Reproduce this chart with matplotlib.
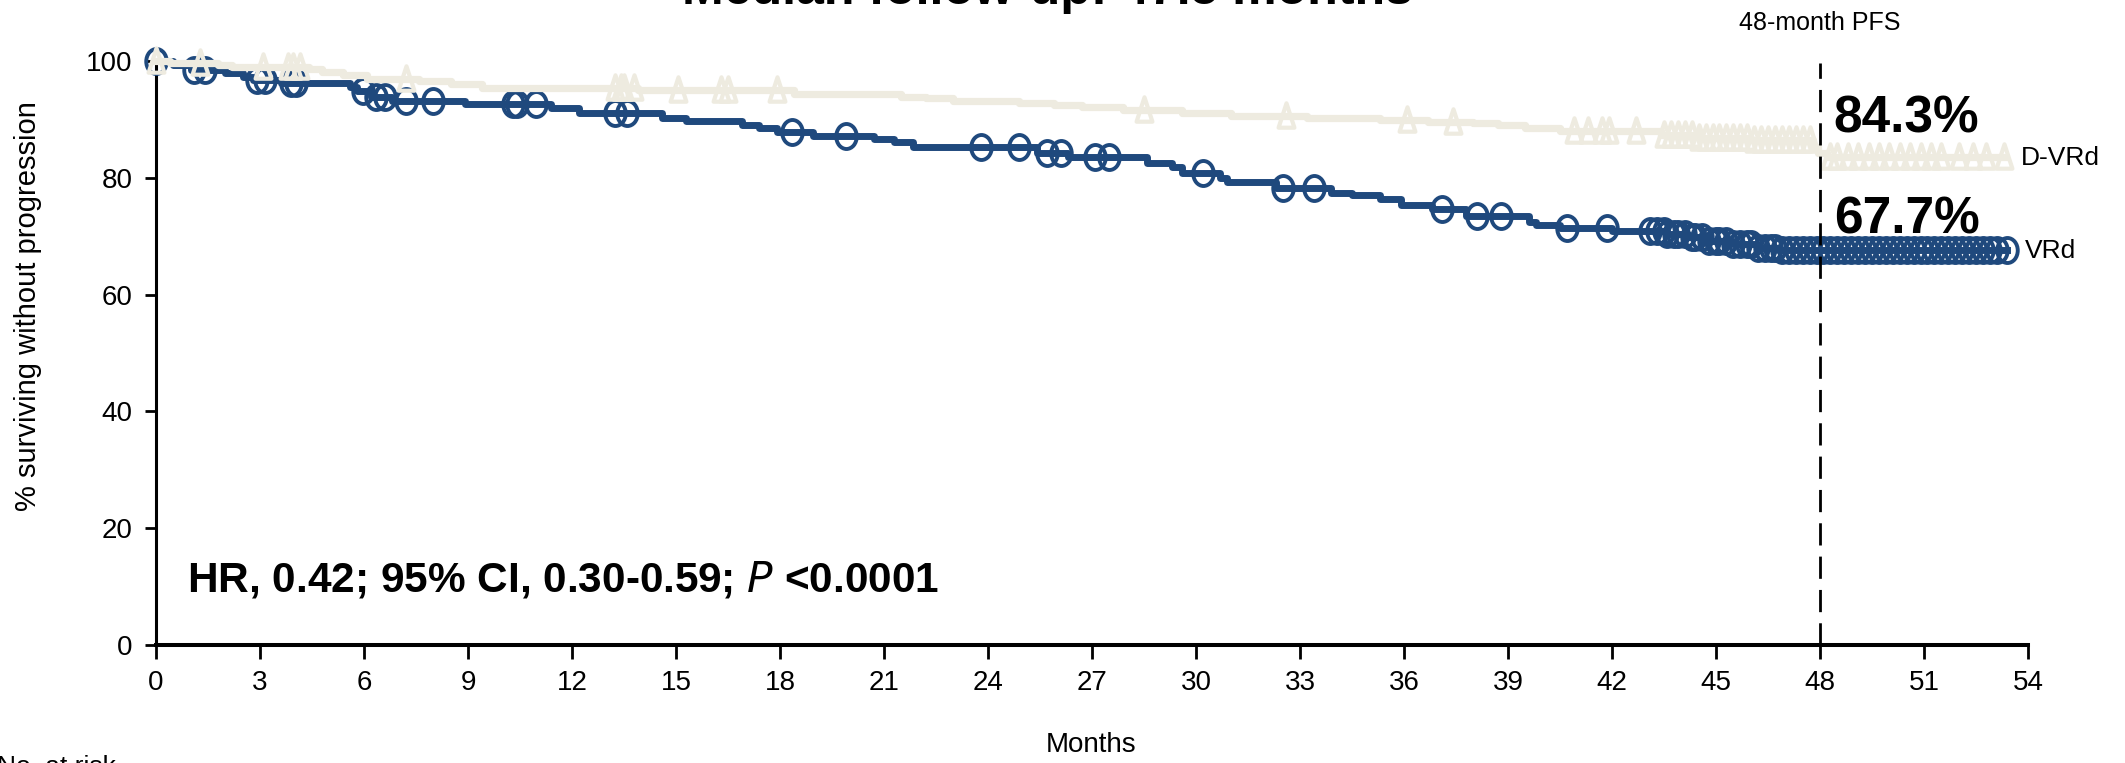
import numpy as np
import matplotlib
matplotlib.use("Agg")
import matplotlib.pyplot as plt
from matplotlib.path import Path

plt.rcParams["font.family"] = ["Liberation Sans", "DejaVu Sans"]

# Datos (meses, % sin progresión)
vrd_t = [0, 0.5, 1.0, 2.0, 2.5, 2.8, 3.6, 5.6, 5.8, 6.2, 6.8, 8.9, 11.4, 12.2,
         14.6, 15.3, 16.9, 17.4, 17.9, 18.95, 20.7, 21.3, 21.85, 25.4, 26.3,
         28.6, 29.3, 29.6, 30.7, 30.9, 32.3, 33.9, 34.5, 35.3, 35.9, 36.8,
         37.8, 39.6, 39.8, 40.5, 42.0, 43.6, 44.2, 44.8, 45.5, 46.2, 46.8, 53.4]
vrd_s = [100, 99.3, 98.5, 97.9, 97.3, 96.8, 96.3, 95.6, 94.8, 93.8, 93.1, 92.6,
         91.9, 91.1, 90.3, 89.8, 89.1, 88.5, 87.9, 87.1, 86.6, 86.2, 85.2, 84.3,
         83.5, 82.6, 81.8, 80.9, 79.9, 79.2, 78.3, 77.4, 77.0, 76.4, 75.4, 74.6,
         73.4, 72.5, 72.0, 71.4, 70.9, 70.4, 69.8, 69.2, 68.6, 68.0, 67.6, 67.6]
vrd_cens = [0.0, 1.1, 1.4, 2.9, 3.15, 3.9, 4.05, 5.97, 6.35, 6.6, 7.2, 8.0,
            10.3, 10.4, 10.95, 13.25, 13.6, 18.35, 19.9, 23.8, 24.9, 25.7, 26.1,
            27.1, 27.5, 30.2, 32.5, 33.4, 37.1, 38.1, 38.8, 40.7, 41.85, 43.1,
            43.3, 43.5, 43.6, 43.8, 43.9, 44.1, 44.3, 44.4, 44.6, 44.8, 45.0,
            45.1, 45.3, 45.5, 45.7, 45.9, 46.0, 46.2, 46.4, 46.6, 46.7, 46.9,
            47.1, 47.3, 47.5, 47.7, 47.9, 48.1, 48.3, 48.5, 48.7, 48.9, 49.1,
            49.3, 49.5, 49.7, 49.9, 50.1, 50.3, 50.5, 50.7, 50.9, 51.1, 51.3,
            51.5, 51.7, 51.9, 52.1, 52.3, 52.5, 52.7, 52.9, 53.1, 53.4]

dvrd_t = [0, 0.4, 1.8, 2.2, 4.4, 4.8, 5.4, 6.1, 7.6, 8.5, 9.4, 13.9, 18.4,
          21.5, 22.2, 23.0, 24.9, 25.9, 26.7, 27.9, 29.6, 31.0, 33.2, 35.3,
          36.7, 38.0, 38.7, 39.5, 40.5, 43.4, 44.5, 46.0, 47.8, 47.95, 48.2, 53.3]
dvrd_s = [100, 99.6, 99.3, 99.0, 98.6, 98.2, 97.6, 96.9, 96.5, 96.1, 95.4, 95.0,
          94.3, 93.9, 93.6, 93.2, 92.8, 92.5, 92.2, 91.6, 91.1, 90.6, 90.2, 89.9,
          89.6, 89.3, 89.0, 88.5, 88.0, 87.3, 86.9, 86.5, 85.3, 84.3, 83.5, 83.5]
dvrd_cens = [0.0, 1.27, 3.1, 3.8, 3.95, 4.15, 7.2, 13.25, 13.4, 13.5, 13.8,
             15.05, 16.3, 16.5, 17.9, 28.5, 32.6, 36.1, 37.4, 40.9, 41.3, 41.7,
             41.9, 42.7, 43.5, 43.7, 43.9, 44.1, 44.3, 44.5, 44.7, 44.9, 45.1,
             45.3, 45.5, 45.7, 45.9, 46.1, 46.3, 46.5, 46.7, 46.9, 47.1, 47.3,
             47.5, 47.7, 48.3, 48.5, 48.8, 49.1, 49.4, 49.7, 50.0, 50.3, 50.6,
             50.9, 51.2, 51.5, 52.0, 52.4, 52.8, 53.3]

x_ticks = list(range(0, 55, 3))
y_ticks = [0, 20, 40, 60, 80, 100]

AZUL = "#1f497d"
BEIGE = "#eeebe0"


def _en(tiempos, surv, cens):
    idx = np.searchsorted(tiempos, cens, side="right") - 1
    return np.array(surv)[idx]


# marcadores algo estirados en vertical, como en el original
_circ = Path.unit_circle()
M_CIRC = Path(_circ.vertices * [0.82, 1.0], _circ.codes)
M_TRI = Path([[0, 1], [-0.6, -0.85], [0.6, -0.85], [0, 1]],
             [Path.MOVETO, Path.LINETO, Path.LINETO, Path.CLOSEPOLY])

fig = plt.figure(figsize=(21.25, 7.63), dpi=100)
ax = fig.add_axes([156 / 2125, 1 - 645 / 763, (2028 - 156) / 2125, (645 - 61) / 763])

ax.step(vrd_t, vrd_s, where="post", color=AZUL, lw=5.0, clip_on=False, zorder=3)
ax.plot(vrd_cens, _en(vrd_t, vrd_s, vrd_cens), ls="none", marker=M_CIRC,
        ms=18, mfc="none", mec=AZUL, mew=2.8, clip_on=False, zorder=3)
ax.step(dvrd_t, dvrd_s, where="post", color=BEIGE, lw=5.2, clip_on=False, zorder=4)
ax.plot(dvrd_cens, _en(dvrd_t, dvrd_s, dvrd_cens), ls="none", marker=M_TRI,
        ms=19, mfc="none", mec=BEIGE, mew=3.0, clip_on=False, zorder=4)

ax.plot([48, 48], [0, 99.6], color="black", lw=2.0, ls=(0, (8, 4)),
        clip_on=False, zorder=5)

ax.set_xlim(0, 54)
ax.set_ylim(0, 100)
ax.set_xticks(x_ticks)
ax.set_yticks(y_ticks)
for s in ["top", "right"]:
    ax.spines[s].set_visible(False)
ax.spines["left"].set_linewidth(2.2)
ax.spines["bottom"].set_linewidth(2.9)
ax.tick_params(axis="both", labelsize=20, width=2, direction="out")
ax.tick_params(axis="x", length=10, pad=8)
ax.tick_params(axis="y", length=8, pad=9)

# textos
ax.text(0.9, 9.1, "HR, 0.42; 95% CI, 0.30-0.59; $\\bf{\\it{P}}$ <0.0001",
        fontsize=30.5, fontweight="bold", va="baseline", ha="left")
ax.text(48.4, 87.7, "84.3%", fontsize=37, fontweight="bold", va="baseline")
ax.text(48.4, 70.5, "67.7%", fontsize=37, fontweight="bold", va="baseline")
ax.text(53.8, 83.4, "D-VRd", fontsize=19, va="center", ha="left", clip_on=False)
ax.text(53.9, 67.5, "VRd", fontsize=19, va="center", ha="left", clip_on=False)
ax.text(48, 105.3, "48-month PFS", fontsize=18, ha="center", va="baseline")

fig.text(1047 / 2125, 1 - 4 / 763, "Median follow-up: 47.5 months",
         fontsize=36, fontweight="bold", ha="center", va="baseline")
fig.text(28 / 2125, 1 - 306 / 763, "% surviving without progression",
         fontsize=21, rotation=90, ha="center", va="center")
fig.text(1091 / 2125, 1 - 745 / 763, "Months", fontsize=20, ha="center", va="center")
fig.text(-3 / 2125, 1 - 755 / 763, "No. at risk", fontsize=19, ha="left", va="top")

fig.savefig("out.png", dpi=100)
